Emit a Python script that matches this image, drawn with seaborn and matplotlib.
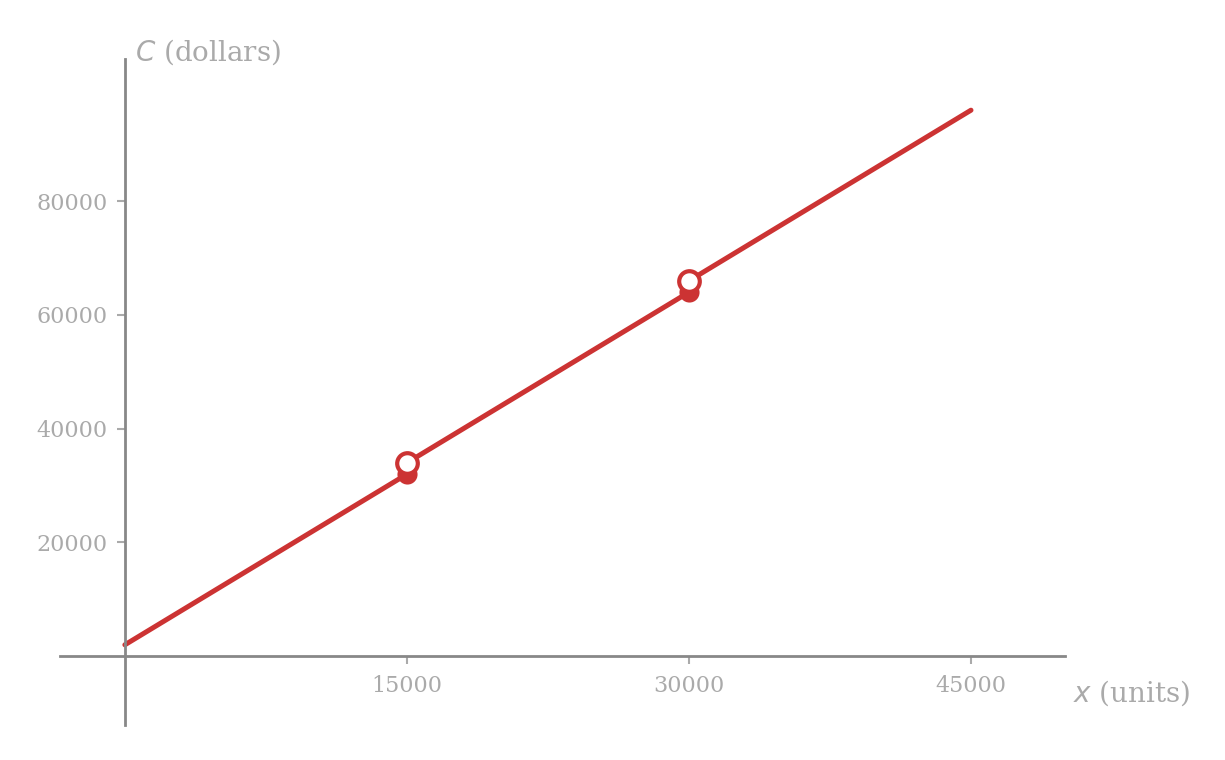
import numpy as np
import pandas as pd
import matplotlib.pyplot as plt
import seaborn as sns

# piecewise cost function C(x), one fixed-cost step every 15000 units
seg_x0 = [0, 15000, 30000]
seg_x1 = [15000, 30000, 45000]
seg_c0 = [2000, 34000, 66000]
seg_c1 = [32000, 64000, 96000]

# endpoints at the jumps
closed_x = [15000, 30000]
closed_c = [32000, 64000]
open_x = [15000, 30000]
open_c = [34000, 66000]

xticks = [15000, 30000, 45000]
yticks = [20000, 40000, 60000, 80000]

red = "#cc3333"
axis_gray = "#888888"
text_gray = "#aaaaaa"

sns.set_theme(style="white")
plt.rcParams["font.family"] = ["DejaVu Serif"]
plt.rcParams["mathtext.fontset"] = "dejavusans"

fig = plt.figure(figsize=(12.25, 7.6), dpi=100)
ax = fig.add_axes([60 / 1225, 1 - 725 / 760, 1005 / 1225, 666 / 760])

rows = []
for i in range(len(seg_x0)):
    rows.append({"x": seg_x0[i], "C": seg_c0[i], "seg": i})
    rows.append({"x": seg_x1[i], "C": seg_c1[i], "seg": i})
df = pd.DataFrame(rows)

sns.lineplot(data=df, x="x", y="C", units="seg", estimator=None,
             color=red, linewidth=3.6, ax=ax, zorder=2)
sns.scatterplot(x=closed_x, y=closed_c, color=red, s=210, edgecolor=red,
                linewidth=0, ax=ax, zorder=3)
sns.scatterplot(x=open_x, y=open_c, color="white", s=220, edgecolor=red,
                linewidth=3, ax=ax, zorder=4)

ax.set_xlim(-3450, 50000)
ax.set_ylim(-12100, 105000)

for side in ["top", "right"]:
    ax.spines[side].set_visible(False)
ax.spines["left"].set_position(("data", 0))
ax.spines["bottom"].set_position(("data", 0))
for side in ["left", "bottom"]:
    ax.spines[side].set_color(axis_gray)
    ax.spines[side].set_linewidth(2)

ax.set_xticks(xticks)
ax.set_yticks(yticks)
ax.set_xticklabels([str(t) for t in xticks])
ax.set_yticklabels([str(t) for t in yticks])
ax.tick_params(axis="both", bottom=True, left=True, colors="#aaaaaa",
               labelcolor=text_gray, labelsize=16, length=6, width=1.5,
               direction="out")
ax.tick_params(axis="x", pad=7.5)
ax.tick_params(axis="y", pad=6.5)

ax.set_xlabel("")
ax.set_ylabel("")
fig.text(135 / 1225, 1 - 52 / 760, r"$C$ (dollars)", color=text_gray,
         fontsize=20, ha="left", va="center")
fig.text(1073 / 1225, 1 - 693 / 760, r"$x$ (units)", color=text_gray,
         fontsize=20, ha="left", va="center")
ax.grid(False)

fig.savefig("out.png", dpi=100)
